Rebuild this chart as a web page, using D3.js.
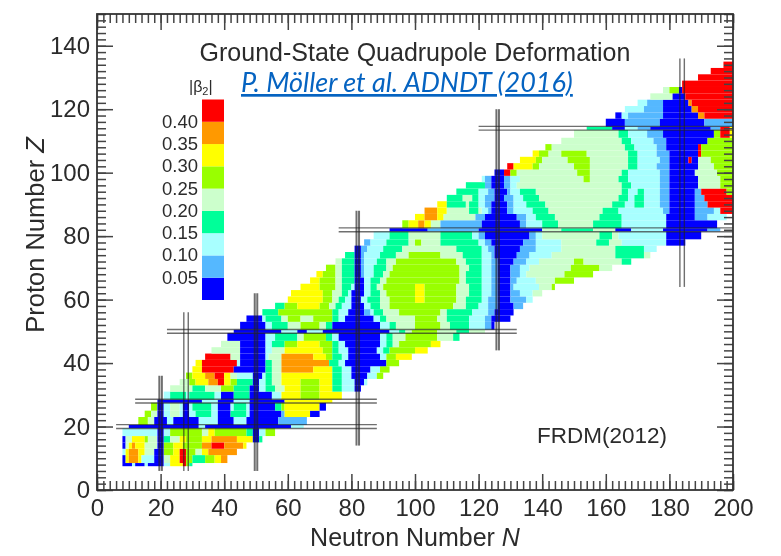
<!DOCTYPE html>
<html>
<head>
<meta charset="utf-8">
<script src="https://cdn.jsdelivr.net/npm/d3@7"></script>
<style>
  html, body { margin: 0; padding: 0; background: #fff; }
  svg { display: block; }
  text { font-family: "Liberation Sans", sans-serif; fill: #2b2b2b; }
  .domain { display: none; }
  .tick line { stroke: #444; stroke-width: 1.5; }
  .soft { filter: blur(0.5px); }
</style>
</head>
<body>
<div id="chart"></div>
<script>
var width = 781, height = 556;

// |beta2| classes, lowest first
var levelColors = ["#0000ff", "#55b8ff", "#a8ffff", "#00ff99", "#ccffcc", "#99ff00", "#ffff00", "#ff9900", "#ff0000"];
var legendLabels = ["0.40", "0.35", "0.30", "0.25", "0.20", "0.15", "0.10", "0.05"];

var xTicks = [0, 20, 40, 60, 80, 100, 120, 140, 160, 180, 200];
var yTicks = [0, 20, 40, 60, 80, 100, 120, 140];

var magicN = [20, 28, 50, 82, 126, 184];
var magicNFrom = [6, 6, 6, 14, 44, 64];
var magicNTo = [36, 56, 62, 88, 120, 136];
var magicNGap = [0.4, 0.7, 0.4, 0.4, 0.4, 0.7];
var magicZ = [20, 28, 50, 82, 114];
var magicZFrom = [6, 12, 22, 76, 120];
var magicZTo = [88, 88, 132, 200, 200];

// rows that are only one nucleus high
var thinZ = [8, 20, 28, 50, 82, 114];

// one row per Z: first N, then pairs of class, N where the class stops
var rowZ = [8, 10, 12, 14, 16, 18, 20, 22, 24, 26, 28, 30, 32, 34, 36, 38, 40, 42, 44, 46, 48, 50,
    52, 54, 56, 58, 60, 62, 64, 66, 68, 70, 72, 74, 76, 78, 80, 82, 84, 86, 88, 90, 92, 94, 96, 98,
    100, 102, 104, 106, 108, 110, 112, 114, 116, 118, 120, 122, 124, 126, 128, 130, 132, 134];
var rowStart = [8, 8, 8, 8, 8, 8, 10, 13, 15, 17, 19, 21, 23, 26, 28, 30, 31, 34, 36, 39, 41, 43,
    45, 47, 52, 56, 60, 61, 64, 67, 69, 72, 75, 78, 81, 84, 87, 92, 96, 100, 103, 107, 110, 113, 116, 121,
    125, 129, 133, 137, 141, 146, 150, 154, 160, 163, 166, 170, 174, 178, 184, 189, 193, 197];
var rowRuns = [
    [0,11, 2,12, 0,15, 2,16, 0,21, 2,23, 6,27, 8,28, 5,29, 3,30],
    [0,9, 6,10, 7,13, 6,14, 2,18, 0,21, 4,23, 6,26, 8,28, 5,30, 3,34, 5,37, 6,39, 7,41],
    [2,9, 6,10, 7,13, 6,15, 4,18, 0,21, 5,24, 6,26, 8,28, 5,31, 4,33, 6,35, 7,44],
    [0,9, 4,10, 6,11, 7,12, 6,15, 4,19, 0,21, 5,24, 6,27, 5,33, 7,36, 8,40, 7,46, 6,47],
    [0,9, 4,11, 6,15, 5,16, 4,19, 0,21, 3,23, 4,26, 6,28, 5,33, 6,36, 7,44, 6,49, 0,51, 3,52],
    [2,19, 0,21, 2,23, 5,33, 4,35, 6,37, 5,47, 3,49, 0,51, 2,53, 5,56],
    [0,32, 2,34, 0,61, 2,65],
    [5,16, 4,18, 0,22, 2,24, 0,32, 2,38, 0,43, 2,47, 0,57, 1,66],
    [5,17, 4,19, 0,21, 2,23, 4,26, 2,27, 0,29, 2,31, 3,36, 2,38, 0,42, 3,47, 2,48, 0,58, 1,59, 6,67, 0,70],
    [5,19, 0,21, 2,23, 4,26, 2,27, 0,29, 2,30, 3,36, 2,38, 0,42, 2,43, 3,47, 2,48, 0,56, 3,58, 5,59, 6,70, 0,72],
    [0,33, 2,38, 0,43, 2,48, 0,59, 6,74],
    [2,23, 3,28, 2,29, 3,37, 2,39, 0,43, 3,48, 0,55, 2,58, 6,64, 5,70, 6,77],
    [4,30, 3,34, 4,39, 5,43, 3,48, 0,51, 2,53, 3,56, 4,59, 6,64, 5,70, 6,74, 3,77, 2,81, 0,83],
    [4,29, 5,31, 6,35, 7,38, 8,40, 6,42, 5,44, 3,49, 0,51, 2,53, 3,55, 4,58, 6,64, 5,70, 6,74, 3,77, 2,81, 0,84, 2,85],
    [5,30, 6,34, 7,37, 8,40, 6,42, 4,44, 2,49, 0,52, 2,53, 3,55, 4,58, 6,74, 3,77, 2,80, 0,85, 2,88, 5,90],
    [6,33, 8,43, 0,53, 3,55, 4,58, 7,68, 6,74, 3,77, 2,80, 0,86, 2,89, 5,92],
    [6,33, 8,44, 2,45, 0,53, 3,55, 4,58, 7,73, 3,76, 2,78, 0,91, 5,95],
    [8,42, 4,45, 0,53, 2,54, 4,58, 7,68, 6,72, 5,74, 3,77, 2,79, 0,89, 2,91, 5,94, 6,99],
    [4,45, 0,53, 2,55, 4,59, 6,71, 5,74, 3,76, 2,79, 0,88, 2,90, 3,92, 5,100, 6,104],
    [4,45, 0,53, 2,55, 3,59, 5,63, 6,70, 5,74, 3,76, 2,78, 0,89, 2,91, 3,93, 4,95, 5,105, 6,108],
    [0,53, 2,56, 3,63, 4,65, 5,72, 3,74, 2,76, 0,89, 2,91, 3,93, 4,97, 5,107, 4,112, 3,114],
    [0,58, 2,63, 0,66, 2,71, 0,92, 2,95, 3,97, 4,99, 5,107, 4,113, 3,117, 4,122],
    [0,53, 2,55, 3,60, 4,64, 5,70, 4,72, 3,74, 0,89, 2,92, 3,94, 4,100, 5,108, 4,111, 3,117, 2,122, 1,124, 0,125],
    [0,52, 2,53, 3,58, 4,60, 5,64, 4,68, 5,74, 3,76, 2,78, 0,87, 2,89, 3,91, 4,100, 5,107, 4,110, 3,117, 2,122, 1,124, 0,130],
    [3,57, 5,74, 3,76, 2,79, 0,84, 1,86, 2,87, 3,90, 4,95, 5,108, 4,110, 3,118, 2,123, 1,125, 0,131],
    [3,59, 5,63, 6,70, 5,73, 4,75, 3,77, 2,80, 0,84, 2,86, 3,89, 4,92, 5,112, 4,116, 3,120, 2,123, 1,126, 0,131, 1,134],
    [6,71, 5,74, 4,76, 3,78, 2,80, 0,83, 2,85, 3,89, 4,92, 5,100, 6,103, 5,113, 4,116, 3,121, 2,123, 1,126, 0,130, 1,135, 2,137],
    [6,71, 5,74, 4,77, 3,79, 2,80, 0,84, 2,86, 3,89, 4,91, 5,100, 6,103, 5,113, 4,117, 3,121, 2,124, 1,126, 0,130, 1,133, 2,137, 4,140],
    [6,70, 5,75, 4,77, 3,80, 2,81, 0,84, 2,86, 3,88, 4,90, 5,100, 6,103, 5,113, 4,117, 3,121, 2,124, 1,126, 0,130, 1,131, 2,139, 4,143, 5,144],
    [6,70, 5,75, 4,77, 3,81, 0,84, 2,86, 3,89, 4,91, 5,114, 4,116, 3,121, 2,124, 1,126, 0,130, 1,132, 2,138, 4,144, 5,150],
    [6,71, 5,75, 4,77, 3,81, 0,83, 1,84, 2,87, 3,90, 4,92, 5,114, 4,116, 3,121, 2,124, 1,126, 0,130, 1,133, 2,135, 4,147, 5,156],
    [5,75, 4,77, 3,81, 0,83, 1,84, 2,87, 3,91, 4,93, 5,114, 4,117, 3,121, 2,124, 1,126, 0,130, 1,133, 2,136, 4,149, 5,158, 4,162],
    [4,77, 3,81, 0,83, 1,84, 2,88, 3,91, 4,94, 5,113, 4,116, 3,121, 2,124, 1,126, 0,131, 1,135, 2,139, 4,150, 5,153, 4,165, 3,168],
    [3,81, 0,83, 1,84, 2,89, 3,94, 4,98, 5,108, 4,115, 3,121, 2,124, 1,125, 0,132, 1,136, 2,143, 4,163, 3,172, 4,174],
    [0,83, 1,85, 2,90, 3,96, 4,113, 3,121, 2,123, 1,125, 0,133, 1,138, 2,146, 4,163, 3,172, 2,176],
    [1,86, 2,91, 3,98, 4,100, 5,102, 4,108, 3,120, 2,122, 1,124, 0,134, 1,138, 2,146, 4,157, 3,161, 4,165, 2,179, 0,185],
    [2,92, 3,98, 4,108, 3,118, 2,120, 1,122, 0,136, 1,138, 2,140, 4,158, 3,162, 4,164, 2,179, 0,190],
    [0,104, 1,120, 0,140, 4,146, 3,156, 4,163, 0,168, 2,178, 0,192, 1,196],
    [5,98, 6,101, 7,103, 6,105, 4,108, 1,121, 0,133, 1,135, 2,140, 3,145, 4,156, 3,165, 2,179, 0,195],
    [6,103, 7,107, 6,109, 4,119, 1,122, 0,132, 1,135, 2,138, 3,144, 4,158, 3,165, 2,179, 0,188, 1,192, 2,198],
    [7,107, 6,110, 4,117, 3,120, 4,121, 2,123, 1,124, 0,129, 1,131, 2,137, 3,142, 4,159, 3,164, 2,178, 1,180, 0,188, 1,194, 2,196, 8,200],
    [6,110, 3,116, 4,117, 3,120, 2,122, 1,124, 0,129, 1,131, 2,135, 3,141, 4,162, 3,166, 2,169, 3,172, 2,177, 1,180, 0,188, 1,192, 8,200],
    [3,115, 4,118, 3,120, 2,122, 1,125, 0,128, 1,131, 2,134, 3,139, 4,164, 3,167, 2,169, 3,172, 2,177, 1,180, 0,188, 1,191, 8,200],
    [3,120, 2,123, 1,125, 0,129, 1,130, 2,133, 3,138, 4,165, 3,167, 2,170, 3,172, 2,177, 1,180, 0,188, 1,190, 8,198, 5,200],
    [3,122, 1,124, 0,128, 1,130, 2,132, 4,165, 3,168, 2,177, 1,180, 0,189, 4,196, 5,200],
    [2,122, 1,124, 0,128, 1,130, 2,133, 4,153, 5,155, 4,164, 3,167, 2,177, 1,180, 0,189, 4,196, 5,200],
    [0,128, 8,130, 5,132, 4,151, 5,155, 4,165, 3,167, 2,177, 1,180, 0,188, 4,195, 5,200],
    [8,131, 6,137, 5,139, 4,150, 5,155, 4,167, 3,170, 2,176, 1,180, 0,189, 4,194, 5,200],
    [6,138, 5,140, 4,148, 5,155, 4,167, 3,170, 2,177, 1,180, 0,186, 8,187, 0,189, 4,193, 5,200],
    [6,139, 5,142, 4,146, 5,154, 4,167, 3,170, 2,176, 1,180, 0,189, 8,190, 5,200],
    [5,143, 4,166, 3,169, 2,176, 1,179, 0,189, 8,190, 5,200],
    [4,165, 3,168, 2,175, 1,179, 0,192, 5,200],
    [4,164, 3,167, 2,173, 1,178, 0,194, 5,196, 8,199, 6,200],
    [3,162, 0,166, 2,170, 1,174, 0,193, 1,196, 8,199, 6,200],
    [0,166, 1,177, 0,191, 1,200],
    [0,165, 2,167, 1,178, 0,189, 7,191, 8,200],
    [2,172, 1,178, 0,187, 7,189, 8,200],
    [2,173, 1,178, 0,186, 7,187, 8,200],
    [4,181, 0,185, 8,200],
    [4,180, 5,183, 0,184, 8,200],
    [8,200],
    [8,200],
    [8,200],
    [8,200]
];

var margin = { top: 14, right: 48, bottom: 66, left: 97 };
var plotW = width - margin.left - margin.right;
var plotH = height - margin.top - margin.bottom;

var x = d3.scaleLinear().domain([0, 200]).range([0, plotW]);
var y = d3.scaleLinear().domain([0, 150]).range([plotH, 0]);
var levelColor = d3.scaleOrdinal().domain(d3.range(levelColors.length)).range(levelColors);

var svg = d3.select("#chart")
    .append("svg")
    .attr("width", width)
    .attr("height", height);

var soft = svg.append("g").attr("class", "soft");
var plot = soft.append("g")
    .attr("transform", "translate(" + margin.left + "," + margin.top + ")");

function rowLo(z) {
    if (thinZ.indexOf(z) >= 0) return z - 0.5;
    return thinZ.indexOf(z - 2) >= 0 ? z - 1.5 : z - 1;
}

function rowHi(z) {
    if (thinZ.indexOf(z) >= 0) return z + 0.5;
    return thinZ.indexOf(z + 2) >= 0 ? z + 1.5 : z + 1;
}

// expand the rows into runs
var runs = [];
rowZ.forEach(function (z, i) {
    var from = rowStart[i];
    var r = rowRuns[i];
    for (var k = 0; k < r.length; k += 2) {
        runs.push({ z: z, from: from, to: r[k + 1], level: r[k] });
        from = r[k + 1];
    }
});

plot.selectAll("rect.run")
    .data(runs)
    .enter().append("rect")
    .attr("class", "run")
    .attr("x", function (d) { return x(d.from); })
    .attr("y", function (d) { return y(rowHi(d.z)); })
    .attr("width", function (d) { return x(d.to) - x(d.from); })
    .attr("height", function (d) { return y(rowLo(d.z)) - y(rowHi(d.z)); })
    .attr("fill", function (d) { return levelColor(d.level); });

// magic number lines, always a close pair
var lines = plot.append("g")
    .attr("stroke", "#222")
    .attr("stroke-opacity", 0.65)
    .attr("stroke-width", 1.4);
magicN.forEach(function (n, i) {
    [-1, 1].forEach(function (side) {
        lines.append("line")
            .attr("x1", x(n + side * magicNGap[i])).attr("x2", x(n + side * magicNGap[i]))
            .attr("y1", y(magicNFrom[i])).attr("y2", y(magicNTo[i]))
            .attr("stroke-width", magicNGap[i] < 0.5 ? 2 : 1.4);
    });
});
magicZ.forEach(function (z, i) {
    [-0.6, 0.6].forEach(function (o) {
        lines.append("line")
            .attr("x1", x(magicZFrom[i])).attr("x2", x(magicZTo[i]))
            .attr("y1", y(z + o)).attr("y2", y(z + o));
    });
});

// frame with ticks pointing inwards on all four sides
var minorX = d3.range(0, 201, 2);
var minorY = d3.range(0, 151, 2);
var minorLen = 9, majorLen = 16;

plot.append("g").attr("transform", "translate(0," + plotH + ")")
    .call(d3.axisBottom(x).tickValues(minorX).tickSize(-minorLen).tickFormat(""));
plot.append("g")
    .call(d3.axisTop(x).tickValues(minorX).tickSize(-minorLen).tickFormat(""));
plot.append("g")
    .call(d3.axisLeft(y).tickValues(minorY).tickSize(-minorLen).tickFormat(""));
plot.append("g").attr("transform", "translate(" + plotW + ",0)")
    .call(d3.axisRight(y).tickValues(minorY).tickSize(-minorLen).tickFormat(""));

var xAxis = plot.append("g").attr("transform", "translate(0," + plotH + ")")
    .call(d3.axisBottom(x).tickValues(xTicks).tickSize(-majorLen).tickPadding(9));
var yAxis = plot.append("g")
    .call(d3.axisLeft(y).tickValues(yTicks).tickSize(-majorLen).tickPadding(7));
plot.append("g")
    .call(d3.axisTop(x).tickValues(xTicks).tickSize(-majorLen).tickFormat(""));
plot.append("g").attr("transform", "translate(" + plotW + ",0)")
    .call(d3.axisRight(y).tickValues(yTicks).tickSize(-majorLen).tickFormat(""));
xAxis.selectAll("text").style("font-size", "24px").style("font-family", "Liberation Sans");
yAxis.selectAll("text").style("font-size", "24px").style("font-family", "Liberation Sans");

plot.append("rect")
    .attr("width", plotW).attr("height", plotH)
    .attr("fill", "none").attr("stroke", "#333").attr("stroke-width", 1.8);

// titles
soft.append("text")
    .attr("x", 415).attr("y", 546).attr("text-anchor", "middle")
    .style("font-size", "25px")
    .html('Neutron Number <tspan font-style="italic">N</tspan>');
soft.append("text")
    .attr("transform", "translate(44,235) rotate(-90)").attr("text-anchor", "middle")
    .style("font-size", "25.5px")
    .html('Proton Number <tspan font-style="italic">Z</tspan>');
soft.append("text")
    .attr("x", 415).attr("y", 61).attr("text-anchor", "middle")
    .style("font-size", "25px")
    .text("Ground-State Quadrupole Deformation");
soft.append("text")
    .attr("x", 602).attr("y", 443).attr("text-anchor", "middle")
    .style("font-size", "22.5px")
    .text("FRDM(2012)");

// legend
var legendY = d3.scaleBand()
    .domain(d3.range(levelColors.length).reverse())
    .range([99.5, 300]);
var legend = soft.append("g");
legend.selectAll("rect")
    .data(d3.range(levelColors.length))
    .enter().append("rect")
    .attr("x", 202).attr("width", 22)
    .attr("y", function (d) { return legendY(d); })
    .attr("height", legendY.bandwidth())
    .attr("fill", function (d) { return levelColor(d); });
legend.selectAll("text.lab")
    .data(legendLabels)
    .enter().append("text")
    .attr("class", "lab")
    .attr("x", 198).attr("text-anchor", "end")
    .attr("y", function (d, i) { return legendY(8 - i) + legendY.bandwidth() + 6; })
    .style("font-size", "18.5px")
    .text(function (d) { return d; });
legend.append("text")
    .attr("x", 189).attr("y", 92)
    .style("font-size", "16px")
    .html('|β<tspan dy="3" font-size="11">2</tspan><tspan dy="-3">|</tspan>');

// the link sits on top, sharp
svg.append("text")
    .attr("x", 241).attr("y", 92)
    .style("font-family", "Lato")
    .style("font-style", "italic")
    .style("font-size", "27px")
    .style("fill", "#0563c1")
    .style("text-decoration", "underline")
    .text("P. Möller et al. ADNDT (2016)");
</script>
</body>
</html>
